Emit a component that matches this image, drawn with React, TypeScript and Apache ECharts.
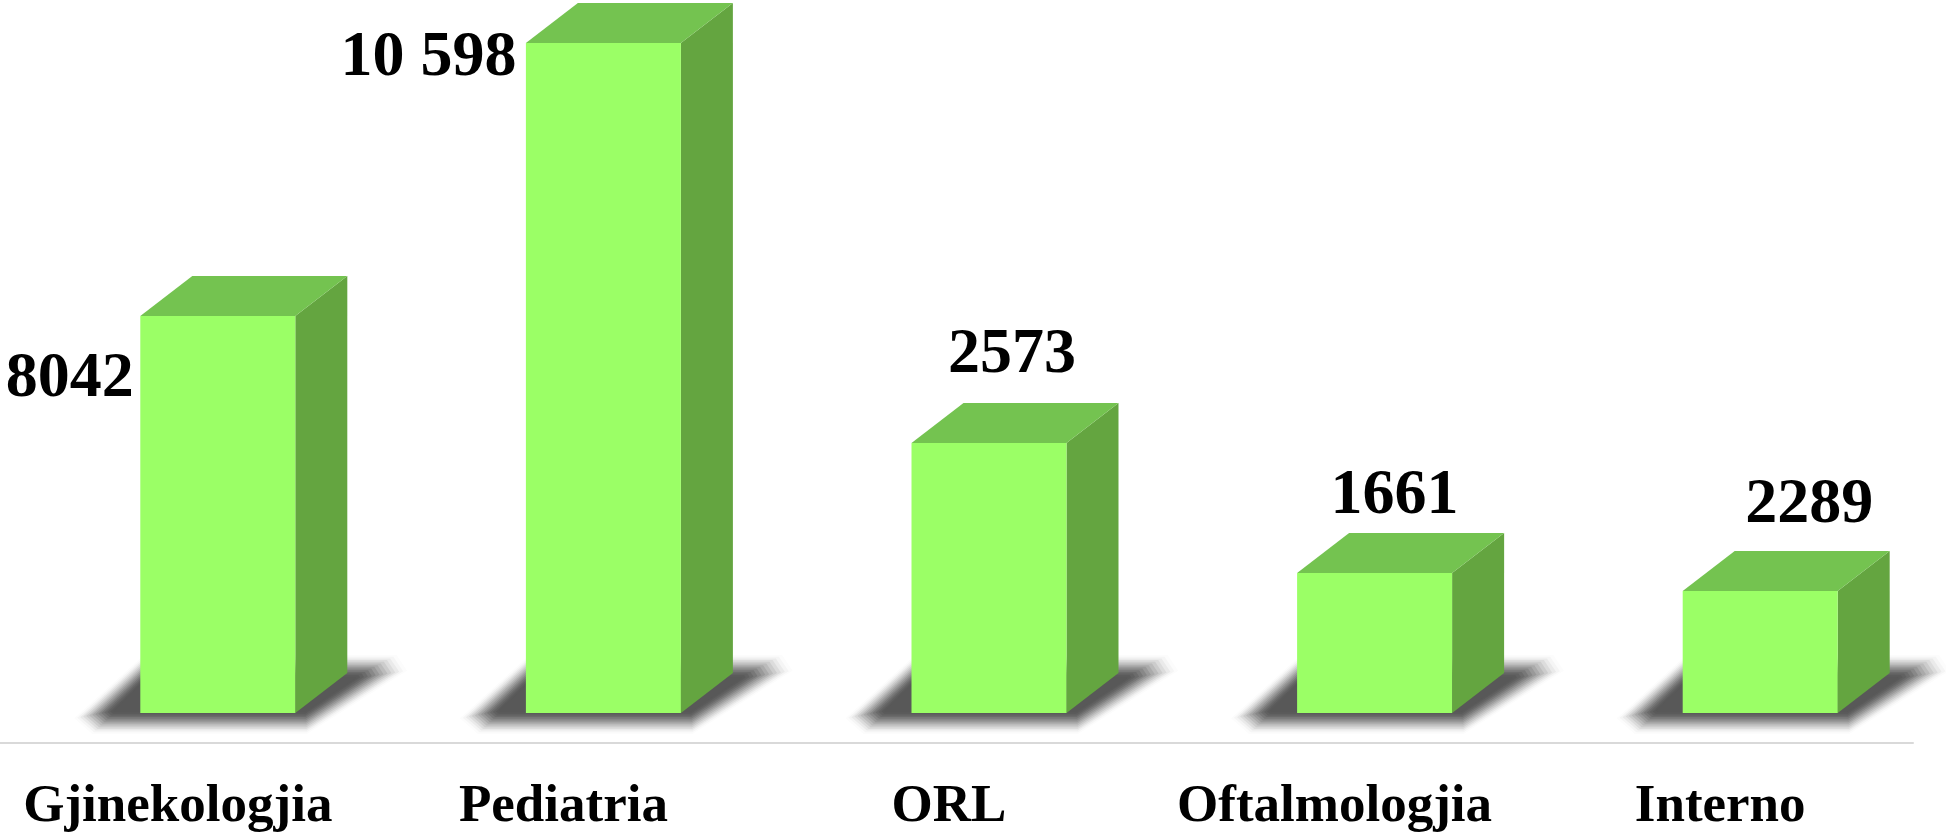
import React, { useEffect, useRef } from "react";
import * as echarts from "echarts";

const categories = ["Gjinekologjia", "Pediatria", "ORL", "Oftalmologjia", "Interno"];
// Printed labels of the reference.
const valueLabels = ["8042", "10 598", "2573", "1661", "2289"];
// The drawn bar heights do not follow the printed labels in the reference;
// these are the heights, on the scale of the tallest bar.
const barHeights = [6280, 10598, 4270, 2215, 1930];
// Where each printed label sits, relative to the top centre of its bar's front face.
const labelOffsets = [
  [-148, 59],
  [-175, 10],
  [23, -93],
  [20, -81],
  [49, -90],
];

const FRONT = "#9BFF66";
const TOP = "#74C350";
const SIDE = "#64A540";
const BAR_W = 155;
const BAR_SHIFT = 40;
const DX = 52;
const DY = 40;
const SERIF = '"Liberation Serif", "Times New Roman", serif';
const PAGE_SHIFT = 15;
const SHADOW_BANDS = 14;
const SHADOW_REACH = 11;

function smooth(u: number) {
  return u * u * (3 - 2 * u);
}

// One band of the soft floor shadow: the floor parallelogram grown by d pixels,
// with its sharp corners cut so that the fade looks round.
function shadowBand(l: number, r: number, b: number, d: number) {
  const yTop = b - 47 - d;
  const yBot = b + 10 + d;
  const leftX = (y: number) => l + 3 - (y - (b - 47)) * 1.02 - d * 1.43;
  const rightX = (y: number) => r + 99 - (y - (b - 47)) * 1.5 + d * 1.8;
  const cut = (d + SHADOW_REACH) * 1.1 + 2;
  return [
    [leftX(yBot) + cut * 1.3, yBot],
    [rightX(yBot) - cut * 0.2, yBot],
    [rightX(yTop + cut * 0.6), yTop + cut * 0.6],
    [rightX(yTop) - cut * 1.3, yTop],
    [leftX(yTop) + cut * 0.2, yTop],
    [leftX(yBot - cut * 0.6), yBot - cut * 0.6],
  ];
}

function renderItem(params: any, api: any) {
  const i = api.value(0);
  const base = api.coord([i, 0]);
  const head = api.coord([i, api.value(1)]);
  const cx = base[0] + BAR_SHIFT;
  const l = cx - BAR_W / 2;
  const r = cx + BAR_W / 2;
  const b = base[1];
  const t = head[1];
  const off = labelOffsets[i];
  const shadow = [];
  let reached = 0;
  for (let k = 0; k < SHADOW_BANDS; k++) {
    const u = (k + 1) / SHADOW_BANDS;
    const want = smooth(u);
    const alpha = reached >= 1 ? 0 : 1 - (1 - want) / (1 - reached);
    reached = want;
    const d = SHADOW_REACH - (2 * SHADOW_REACH * k) / (SHADOW_BANDS - 1);
    shadow.push({
      type: "polygon",
      shape: { points: shadowBand(l, r, b, d) },
      style: { fill: `rgba(88,88,88,${alpha.toFixed(3)})` },
    });
  }
  return {
    type: "group",
    children: [
      ...shadow,
      {
        type: "polygon",
        shape: { points: [[r, t], [r + DX, t - DY], [r + DX, b - DY], [r, b]] },
        style: { fill: SIDE },
      },
      {
        type: "polygon",
        shape: { points: [[l, t], [l + DX, t - DY], [r + DX, t - DY], [r, t]] },
        style: { fill: TOP },
      },
      {
        type: "rect",
        shape: { x: l, y: t, width: BAR_W, height: b - t },
        style: { fill: FRONT },
      },
      {
        type: "text",
        x: cx + off[0],
        y: t + off[1],
        style: {
          text: valueLabels[i],
          fill: "#000000",
          font: `bold 64px ${SERIF}`,
          align: "center",
          verticalAlign: "middle",
        },
      },
    ],
  };
}

export default function App() {
  const ref = useRef<HTMLDivElement>(null);
  useEffect(() => {
    const chart = echarts.init(ref.current!, undefined, { renderer: "svg" });
    chart.setOption({
      animation: false,
      backgroundColor: "#ffffff",
      grid: { left: 0, width: 1928, top: 43, height: 670, containLabel: false },
      xAxis: {
        type: "category",
        data: categories,
        offset: 30,
        axisLine: { onZero: false, lineStyle: { color: "#D9D9D9", width: 2 } },
        axisTick: { show: false },
        axisLabel: {
          interval: 0,
          margin: 33,
          color: "#000000",
          fontFamily: SERIF,
          fontWeight: "bold",
          fontSize: 53,
        },
      },
      yAxis: { type: "value", min: 0, max: 10598, show: false },
      series: [
        {
          type: "custom",
          renderItem,
          clip: false,
          silent: true,
          data: barHeights.map((v, i) => [i, v]),
          encode: { x: 0, y: 1 },
        },
      ],
    });
    return () => chart.dispose();
  }, []);
  return (
    <div style={{ position: "fixed", left: 0, top: 0, width: 1946, height: 832, overflow: "hidden" }}>
      <div
        ref={ref}
        style={{ position: "absolute", left: -PAGE_SHIFT, top: 0, width: 1946 + PAGE_SHIFT, height: 832 }}
      />
    </div>
  );
}
